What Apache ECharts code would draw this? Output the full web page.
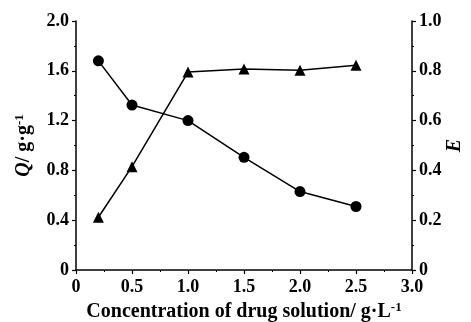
<!DOCTYPE html>
<html><head><meta charset="utf-8">
<script src="https://cdn.jsdelivr.net/npm/echarts@6/dist/echarts.min.js"></script>
<style>html,body{margin:0;padding:0;background:#fff}#c{width:471px;height:322px}</style>
</head><body><div id="c"></div>
<script>
const concQ = [0.2, 0.5, 1.0, 1.5, 2.0, 2.5];
const valuesQ = [1.68, 1.325, 1.20, 0.905, 0.63, 0.51];
const concE = [0.2, 0.5, 1.0, 1.5, 2.0, 2.5];
const valuesE = [0.212, 0.415, 0.795, 0.807, 0.802, 0.822];

const F = '"Liberation Serif", "Times New Roman", serif';
const chart = echarts.init(document.getElementById('c'));
const axisCommon = {
  axisLine: {show: true, onZero: false, lineStyle: {color: '#000', width: 1.5}},
  axisTick: {show: true, inside: false, length: 4, lineStyle: {color: '#000', width: 1.2}},
  minorTick: {show: true, splitNumber: 2, length: 2, lineStyle: {color: '#000', width: 1}},
  splitLine: {show: false},
  axisLabel: {color: '#000', fontFamily: F, fontWeight: 'bold', fontSize: 18, margin: 7}
};
const fmt = v => v === 0 ? '0' : v.toFixed(1);
chart.setOption({
  animation: false,
  grid: {left: 76, right: 59, top: 21, bottom: 52, containLabel: false, outerBoundsMode: 'none'},
  xAxis: Object.assign({}, axisCommon, {
    type: 'value', min: 0, max: 3.0, interval: 0.5,
    name: '{b|Concentration of drug solution/ g·L}{s|-1}',
    nameLocation: 'middle', nameGap: 29,
    nameTextStyle: {rich: {
      b: {fontFamily: F, fontWeight: 'bold', fontSize: 20, color: '#000'},
      s: {fontFamily: F, fontWeight: 'bold', fontSize: 13, color: '#000', verticalAlign: 'top', padding: [0,0,9,0]}
    }},
    axisLabel: Object.assign({}, axisCommon.axisLabel, {formatter: fmt, margin: 8})
  }),
  yAxis: [
    Object.assign({}, axisCommon, {
      type: 'value', min: 0, max: 2.0, interval: 0.4, position: 'left',
      name: '{i|Q}{b|/ g·g}{s|-1}',
      nameLocation: 'middle', nameGap: 41, nameRotate: 90,
      nameTextStyle: {rich: {
        i: {fontFamily: F, fontWeight: 'bold', fontStyle: 'italic', fontSize: 20, color: '#000'},
        b: {fontFamily: F, fontWeight: 'bold', fontSize: 20, color: '#000'},
        s: {fontFamily: F, fontWeight: 'bold', fontSize: 13, color: '#000', verticalAlign: 'top', padding: [0,0,9,0]}
      }},
      axisLabel: Object.assign({}, axisCommon.axisLabel, {formatter: fmt})
    }),
    Object.assign({}, axisCommon, {
      type: 'value', min: 0, max: 1.0, interval: 0.2, position: 'right',
      name: 'E', nameLocation: 'middle', nameGap: 33, nameRotate: 90, nameMoveOverlap: false,
      nameTextStyle: {fontFamily: F, fontWeight: 'bold', fontStyle: 'italic', fontSize: 20, color: '#000'},
      axisLabel: Object.assign({}, axisCommon.axisLabel, {formatter: fmt})
    })
  ],
  series: [
    {type: 'line', yAxisIndex: 0, data: concQ.map((x, i) => [x, valuesQ[i]]),
     symbol: 'circle', symbolSize: 11, lineStyle: {color: '#000', width: 1.5},
     itemStyle: {color: '#000'}},
    {type: 'line', yAxisIndex: 1, data: concE.map((x, i) => [x, valuesE[i]]),
     symbol: 'triangle', symbolSize: 11, lineStyle: {color: '#000', width: 1.5},
     itemStyle: {color: '#000'}}
  ]
});
</script></body></html>
